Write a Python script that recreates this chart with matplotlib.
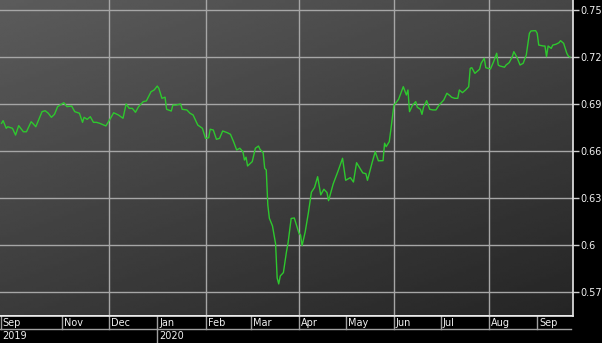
import numpy as np
import matplotlib
matplotlib.use("Agg")
import matplotlib.pyplot as plt
import matplotlib.dates as mdates
import matplotlib.transforms as mtransforms

# ---------------- data ----------------
base_date = np.datetime64("2019-09-22")
day_offsets = [
    1, 2, 4, 5, 8, 10, 12, 15, 17, 20, 21, 23, 27, 29, 31, 33, 35, 37, 41, 43,
    46, 48, 51, 53, 54, 56, 58, 60, 62, 64, 68, 71, 73, 76, 79, 81, 83, 85, 87, 89,
    92, 94, 97, 99, 101, 102, 104, 106, 107, 110, 111, 113, 116, 117, 120, 122, 124, 127, 130, 132,
    134, 135, 137, 139, 141, 143, 146, 148, 150, 152, 154, 156, 157, 158, 159, 162, 164, 166, 167, 169,
    170, 171, 172, 173, 175, 177, 178, 179, 180, 182, 184, 185, 187, 189, 192, 193, 194, 196, 198, 200,
    202, 204, 206, 208, 210, 211, 214, 217, 220, 222, 225, 227, 229, 231, 233, 235, 236, 239, 241, 243,
    246, 247, 248, 250, 251, 253, 254, 256, 257, 259, 261, 262, 263, 265, 267, 268, 270, 271, 272, 274,
    276, 278, 280, 282, 285, 287, 289, 290, 292, 294, 295, 297, 299, 301, 302, 303, 305, 308, 309, 311,
    312, 315, 317, 319, 320, 321, 324, 325, 327, 329, 330, 332, 334, 336, 338, 340, 341, 344, 345, 346,
    349, 350, 351, 352, 354, 355, 357, 359, 360, 362, 364, 365, 366,
]
values = [
    0.6776, 0.6793, 0.6744, 0.6754, 0.6744, 0.6701, 0.6761, 0.6722, 0.6722, 0.6786,
    0.6776, 0.6754, 0.6850, 0.6856, 0.6840, 0.6814, 0.6833, 0.6882, 0.6907, 0.6882,
    0.6886, 0.6850, 0.6840, 0.6782, 0.6814, 0.6801, 0.6818, 0.6782, 0.6782, 0.6776,
    0.6759, 0.6808, 0.6843, 0.6829, 0.6808, 0.6899, 0.6871, 0.6871, 0.6846, 0.6882,
    0.6914, 0.6918, 0.6977, 0.6988, 0.7013, 0.6999, 0.6935, 0.6942, 0.6865, 0.6854,
    0.6892, 0.6892, 0.6899, 0.6865, 0.6861, 0.6840, 0.6829, 0.6765, 0.6744, 0.6680,
    0.6684, 0.6738, 0.6733, 0.6674, 0.6680, 0.6727, 0.6716, 0.6706, 0.6659, 0.6606,
    0.6617, 0.6595, 0.6542, 0.6560, 0.6504, 0.6532, 0.6617, 0.6631, 0.6610, 0.6589,
    0.6489, 0.6479, 0.6256, 0.6171, 0.6122, 0.6008, 0.5791, 0.5753, 0.5804, 0.5825,
    0.5959, 0.6014, 0.6170, 0.6173, 0.6076, 0.6065, 0.5997, 0.6084, 0.6203, 0.6337,
    0.6367, 0.6436, 0.6320, 0.6356, 0.6335, 0.6283, 0.6390, 0.6469, 0.6553, 0.6413,
    0.6430, 0.6402, 0.6525, 0.6493, 0.6460, 0.6455, 0.6413, 0.6526, 0.6595, 0.6537,
    0.6538, 0.6649, 0.6627, 0.6659, 0.6733, 0.6892, 0.6903, 0.6929, 0.6956, 0.7009,
    0.6956, 0.6988, 0.6850, 0.6892, 0.6914, 0.6878, 0.6865, 0.6833, 0.6878, 0.6920,
    0.6865, 0.6861, 0.6861, 0.6892, 0.6924, 0.6967, 0.6952, 0.6942, 0.6935, 0.6935,
    0.6988, 0.6971, 0.6988, 0.7009, 0.7126, 0.7130, 0.7094, 0.7120, 0.7158, 0.7190,
    0.7130, 0.7122, 0.7168, 0.7222, 0.7147, 0.7141, 0.7133, 0.7147, 0.7162, 0.7200,
    0.7232, 0.7196, 0.7147, 0.7158, 0.7211, 0.7349, 0.7364, 0.7366, 0.7349, 0.7274,
    0.7268, 0.7268, 0.7200, 0.7268, 0.7253, 0.7274, 0.7279, 0.7289, 0.7302, 0.7285,
    0.7222, 0.7204, 0.7198,
]
y_ticks = [0.57, 0.60, 0.63, 0.66, 0.69, 0.72, 0.75]
y_tick_labels = ["0.57", "0.6", "0.63", "0.66", "0.69", "0.72", "0.75"]
month_starts = ["2019-11-01", "2019-12-01", "2020-01-01", "2020-02-01", "2020-03-01",
                "2020-04-01", "2020-05-01", "2020-06-01", "2020-07-01", "2020-08-01",
                "2020-09-01"]
month_labels = ["Nov", "Dec", "Jan", "Feb", "Mar", "Apr", "May", "Jun", "Jul", "Aug", "Sep"]
first_month_label = "Sep"
grid_months = ["2019-12-01", "2020-02-01", "2020-04-01", "2020-06-01", "2020-08-01"]
year_starts = ["2020-01-01"]
year_labels = ["2020"]
first_year_label = "2019"
x_start = "2019-09-22"
x_end = "2020-09-24"
y_min, y_max = 0.5552, 0.7561

# ---------------- figure ----------------
W, H = 602, 343
fig = plt.figure(figsize=(W / 100, H / 100), dpi=100, facecolor="black")
ax_left, ax_right, ax_top, ax_bottom = 0, 573, 0, 315.5
ax = fig.add_axes([ax_left / W, 1 - ax_bottom / H, (ax_right - ax_left) / W, (ax_bottom - ax_top) / H])

dates = (base_date + np.array(day_offsets).astype("timedelta64[D]")).astype("datetime64[ns]")
xnum = mdates.date2num(dates)

# gradient background
gx, gy = np.meshgrid(np.linspace(0, 1, 200), np.linspace(0, 1, 120))
grad = 0.36 - 0.085 * gx - 0.13 * gy
ax.imshow(grad, extent=[0, 1, 0, 1], transform=ax.transAxes, cmap="gray",
          vmin=0, vmax=1, aspect="auto", origin="upper", zorder=0, interpolation="bilinear")

ax.set_xlim(mdates.date2num(np.datetime64(x_start)), mdates.date2num(np.datetime64(x_end)))
ax.set_ylim(y_min, y_max)

grid_col = "#a6a6a6"
for yv in y_ticks:
    ax.axhline(yv, color=grid_col, lw=1.0, zorder=1)
for gm in grid_months:
    ax.axvline(mdates.date2num(np.datetime64(gm)), color=grid_col, lw=1.0, zorder=1)

ax.plot(xnum, values, color="#2ec82e", lw=1.0, zorder=3, solid_joinstyle="round")

# spines
for s in ["top", "left"]:
    ax.spines[s].set_visible(False)
for s in ["right", "bottom"]:
    ax.spines[s].set_color("#e8e8e8")
    ax.spines[s].set_linewidth(1.2)

ax.set_xticks([])
ax.yaxis.tick_right()
ax.set_yticks(y_ticks)
ax.set_yticklabels(y_tick_labels)
ax.tick_params(axis="y", direction="out", length=4, width=1, color="#d0d0d0",
               labelcolor="#f0f0f0", labelsize=7, pad=1.5)

# ---------------- date label band ----------------
trans = mtransforms.blended_transform_factory(ax.transData, fig.transFigure)
row1_top = 1 - 316 / H
row1_bot = 1 - 329 / H
row2_bot = 0.0
row1_txt = 1 - 323 / H
row2_txt = 1 - 336 / H
sep_col = "#a0a0a0"
txt_col = "#f0f0f0"
fs = 7
xl0 = mdates.date2num(np.datetime64(x_start))
xr = mdates.date2num(np.datetime64("2020-09-23"))
pad_days = 1.3

ax.text(xl0 + pad_days, row1_txt, first_month_label, transform=trans, color=txt_col,
        fontsize=fs, va="center", ha="left", clip_on=False)
ax.plot([xl0 + 0.6, xl0 + 0.6], [row1_top, row1_bot], transform=trans, color=sep_col,
        lw=1, clip_on=False)
for ms, lab in zip(month_starts, month_labels):
    xm = mdates.date2num(np.datetime64(ms))
    ax.plot([xm, xm], [row1_top, row1_bot], transform=trans, color=sep_col, lw=1, clip_on=False)
    ax.text(xm + pad_days, row1_txt, lab, transform=trans, color=txt_col, fontsize=fs,
            va="center", ha="left", clip_on=False)
ax.plot([xl0, xr], [row1_bot, row1_bot], transform=trans, color=sep_col, lw=1, clip_on=False)

ax.text(xl0 + pad_days, row2_txt, first_year_label, transform=trans, color=txt_col,
        fontsize=fs, va="center", ha="left", clip_on=False)
for ys, lab in zip(year_starts, year_labels):
    xm = mdates.date2num(np.datetime64(ys))
    ax.plot([xm, xm], [row1_bot, row2_bot], transform=trans, color=sep_col, lw=1, clip_on=False)
    ax.text(xm + pad_days, row2_txt, lab, transform=trans, color=txt_col, fontsize=fs,
            va="center", ha="left", clip_on=False)

fig.savefig("out.png", dpi=100, facecolor="black")
